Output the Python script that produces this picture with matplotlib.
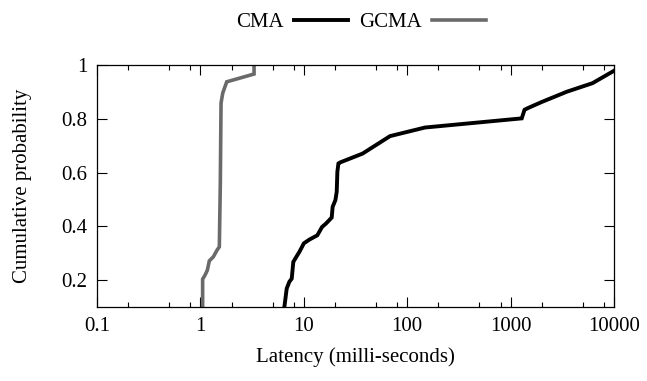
import matplotlib
matplotlib.use('Agg')
import matplotlib.pyplot as plt
from matplotlib.ticker import FixedLocator, FuncFormatter, LogLocator, NullFormatter

# Latency CDF (milli-seconds vs cumulative probability)
cma_latency = [6.48, 6.83, 7.24, 7.64, 7.91, 8.65, 9.05, 10.0, 11.3, 13.5, 15.0, 16.4,
               18.6, 19.0, 20.2, 20.8, 21.1, 21.6, 22.4, 37.0, 68.2, 148.6, 1281,
               1363, 1484, 2000, 3488, 6196, 9890]
cma_prob = [0.100, 0.169, 0.194, 0.206, 0.268, 0.293, 0.305, 0.337, 0.351, 0.367, 0.398,
            0.411, 0.433, 0.473, 0.498, 0.529, 0.603, 0.634, 0.638, 0.671, 0.736, 0.768,
            0.802, 0.834, 0.841, 0.863, 0.901, 0.933, 0.978]

gcma_latency = [1.05, 1.05, 1.108, 1.166, 1.219, 1.333, 1.447, 1.523, 1.557, 1.582,
                1.643, 1.796, 3.30, 3.30]
gcma_prob = [0.100, 0.204, 0.219, 0.237, 0.272, 0.287, 0.312, 0.324, 0.561, 0.859,
             0.896, 0.938, 0.967, 1.000]

x_ticks = [0.1, 1, 10, 100, 1000, 10000]
y_ticks = [0.2, 0.4, 0.6, 0.8, 1.0]

plt.rcParams['font.family'] = ['Liberation Serif', 'DejaVu Serif']
plt.rcParams['font.size'] = 15

fig = plt.figure(figsize=(6.47, 3.81), dpi=100)
ax = fig.add_axes([0.150, 0.194, 0.799, 0.635])

ax.plot(cma_latency, cma_prob, color='black', lw=2.8, label='CMA', solid_joinstyle='miter')
ax.plot(gcma_latency, gcma_prob, color='#6a6a6a', lw=2.6, label='GCMA', solid_joinstyle='miter')

ax.set_xscale('log')
ax.set_xlim(0.1, 10000)
ax.set_ylim(0.1, 1.0)

ax.xaxis.set_major_locator(FixedLocator(x_ticks))
ax.xaxis.set_major_formatter(FuncFormatter(lambda v, p: '%g' % v))
ax.xaxis.set_minor_locator(LogLocator(base=10, subs=[2, 5, 8]))
ax.xaxis.set_minor_formatter(NullFormatter())
ax.yaxis.set_major_locator(FixedLocator(y_ticks))
ax.yaxis.set_major_formatter(FuncFormatter(lambda v, p: '%g' % v))

ax.tick_params(which='both', direction='in', top=True, right=True, width=0.8)
ax.tick_params(which='major', length=7, pad=7)
ax.tick_params(which='minor', length=3.5)
for s in ax.spines.values():
    s.set_linewidth(0.9)

ax.set_xlabel('Latency (milli-seconds)', labelpad=8)
ax.set_ylabel('Cumulative probability', labelpad=21)

fig.legend(loc='center', bbox_to_anchor=(0.558, 0.942), ncol=2, frameon=False,
           markerfirst=False, handlelength=2.6, columnspacing=0.5, handletextpad=0.5)

fig.savefig('out.png', dpi=100)
